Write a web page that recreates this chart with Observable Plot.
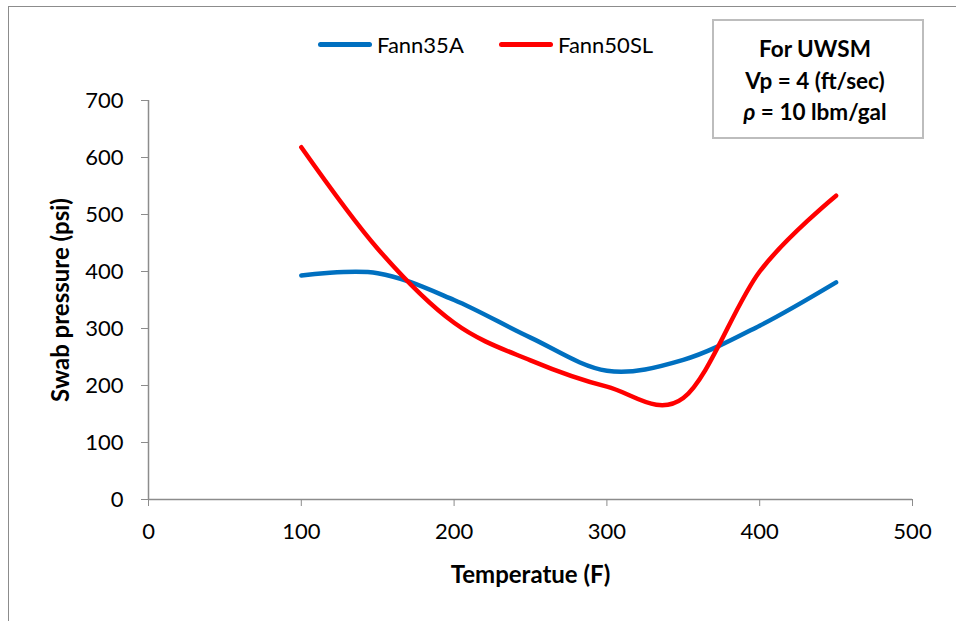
<!DOCTYPE html>
<html>
<head>
<meta charset="utf-8">
<script src="https://cdn.jsdelivr.net/npm/d3@7"></script>
<script src="https://cdn.jsdelivr.net/npm/@observablehq/plot@0.6"></script>
<style>
  html, body { margin: 0; padding: 0; background: #fff; }
  #wrap { position: relative; width: 956px; height: 621px; overflow: hidden; font-family: Lato, "Open Sans", sans-serif; }
  #frame { position: absolute; left: 8px; top: 6px; width: 2000px; height: 2000px; border-left: 1.5px solid #8c8c8c; border-top: 1.5px solid #8c8c8c; }
  #chart { position: absolute; left: 0; top: 0; }
  .leg { position: absolute; top: 31px; font-size: 22px; color: #000; display: flex; align-items: center; }
  .leg span.sw { display: inline-block; width: 54px; height: 5px; border-radius: 3px; margin-right: 5px; }
  #note { position: absolute; left: 712px; top: 19px; width: 212px; height: 120px; border: 2px solid #bdbdbd; box-sizing: border-box;
          font-weight: bold; font-size: 22.5px; text-align: center; line-height: 31.5px; padding-top: 12px; padding-right: 6px; }
</style>
</head>
<body>
<div id="wrap">
  <div id="frame"></div>
  <div id="chart"></div>
  <div id="legend"></div>
  <div id="note"></div>
</div>
<script>
// Data
const temperature = [100, 150, 200, 250, 300, 350, 400, 450];
const fann35A  = [393, 397, 350, 284, 226, 245, 305, 381];
const fann50SL = [618, 440, 310, 244, 198, 178, 400, 533];
const seriesNames = ["Fann35A", "Fann50SL"];
const seriesColors = ["#0070C0", "#FF0000"];
const xTicks = [0, 100, 200, 300, 400, 500];
const yTicks = [0, 100, 200, 300, 400, 500, 600, 700];
const noteLines = ["For UWSM", "Vp = 4 (ft/sec)", "<i>ρ</i> = 10 lbm/gal"];

const rows = [];
temperature.forEach((t, i) => {
  rows.push({series: seriesNames[0], x: t, y: fann35A[i]});
  rows.push({series: seriesNames[1], x: t, y: fann50SL[i]});
});

const plot = Plot.plot({
  width: 956,
  height: 621,
  marginLeft: 148,
  marginRight: 44,
  marginTop: 100,
  marginBottom: 122,
  style: {fontFamily: "Lato, 'Open Sans', sans-serif", fontSize: "22px", color: "#000", background: "transparent"},
  x: {domain: [0, 500]},
  y: {domain: [0, 700]},
  color: {domain: seriesNames, range: seriesColors},
  marks: [
    Plot.ruleX([0], {stroke: "#8c8c8c", strokeWidth: 1.5}),
    Plot.ruleY([0], {stroke: "#8c8c8c", strokeWidth: 1.5}),
    Plot.axisX({ticks: xTicks, tickFormat: d => String(d), tickSize: 7, tickPadding: 17, stroke: "#8c8c8c", fill: "#000", label: null, fontSize: 22}),
    Plot.axisY({ticks: yTicks, tickFormat: d => String(d), tickSize: 7, tickPadding: 18, stroke: "#8c8c8c", fill: "#000", label: null, fontSize: 22}),
    Plot.text(["Temperatue (F)"], {frameAnchor: "bottom", textAnchor: "middle", dy: 83, fontWeight: "bold", fontSize: 24, fill: "#000"}),
    Plot.text(["Swab pressure (psi)"], {frameAnchor: "left", textAnchor: "middle", lineAnchor: "middle", dx: -87, rotate: -90, fontWeight: "bold", fontSize: 24, fill: "#000"}),
    Plot.line(rows, {x: "x", y: "y", z: "series", stroke: "series", strokeWidth: 4.5, curve: "cardinal", tension: 0, strokeLinecap: "round", strokeLinejoin: "round"})
  ]
});
document.getElementById("chart").appendChild(plot);

// Legend
const legend = document.getElementById("legend");
const legX = [318, 499];
seriesNames.forEach((name, i) => {
  const d = document.createElement("div");
  d.className = "leg";
  d.style.left = legX[i] + "px";
  d.innerHTML = `<span class="sw" style="background:${seriesColors[i]}"></span>${name}`;
  legend.appendChild(d);
});

// Annotation box
document.getElementById("note").innerHTML = noteLines.join("<br>");
</script>
</body>
</html>
